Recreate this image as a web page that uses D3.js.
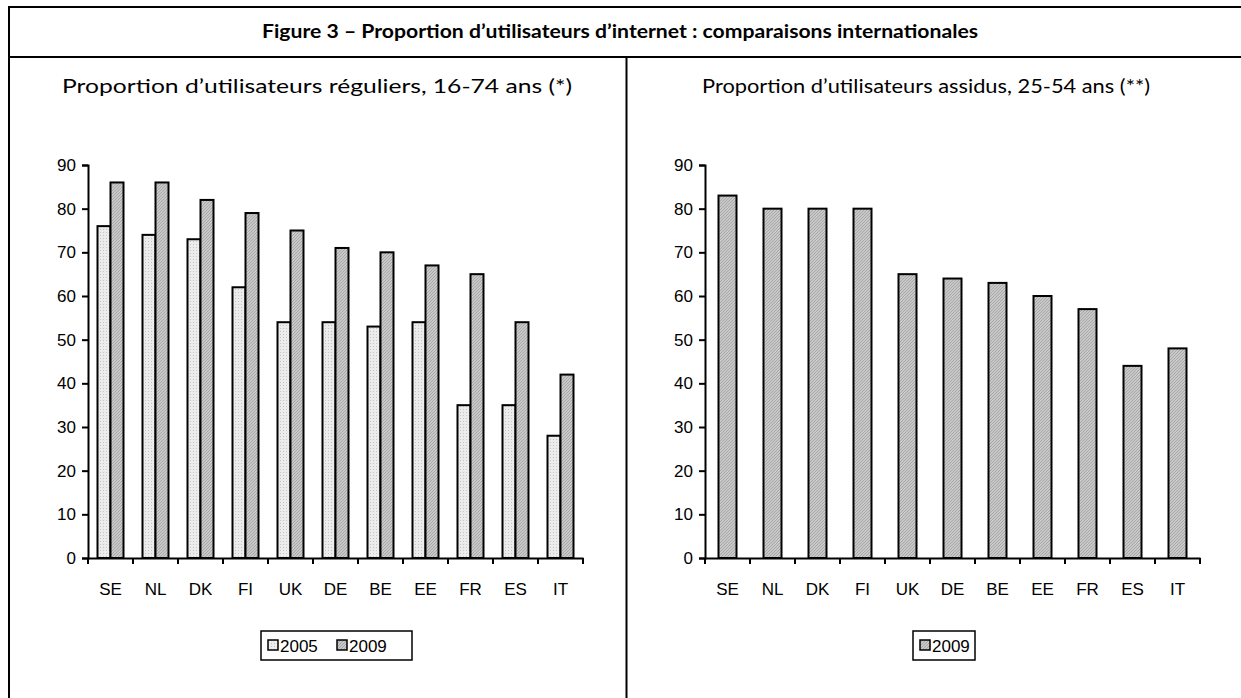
<!DOCTYPE html>
<html><head><meta charset="utf-8">
<script src="https://cdn.jsdelivr.net/npm/d3@7"></script>
<style>body{margin:0;background:#fff}svg{display:block}</style>
</head><body>
<svg id="c" width="1241" height="698"></svg>
<script>
const categories = ["SE","NL","DK","FI","UK","DE","BE","EE","FR","ES","IT"];
const left2005 = [76,74,73,62,54,54,53,54,35,35,28];
const left2009 = [86,86,82,79,75,71,70,67,65,54,42];
const right2009 = [83,80,80,80,65,64,63,60,57,44,48];
const yTicks = [0,10,20,30,40,50,60,70,80,90];
const figTitle = "Figure 3 – Proportion d’utilisateurs d’internet : comparaisons internationales";
const leftTitle = "Proportion d’utilisateurs réguliers, 16-74 ans (*)";
const rightTitle = "Proportion d’utilisateurs assidus, 25-54 ans (**)";

const svg = d3.select("#c");
const defs = svg.append("defs");
const pd = defs.append("pattern").attr("id","dots").attr("patternUnits","userSpaceOnUse").attr("width",3).attr("height",3);
pd.append("rect").attr("width",3).attr("height",3).attr("fill","#ececec");
pd.append("rect").attr("x",1).attr("y",1).attr("width",1).attr("height",1).attr("fill","#c4c4c4");
const ph = defs.append("pattern").attr("id","hatch").attr("patternUnits","userSpaceOnUse").attr("width",3).attr("height",3);
ph.append("rect").attr("width",3).attr("height",3).attr("fill","#c8c8c8");
ph.append("path").attr("d","M0,3 L3,0").attr("stroke","#a8a8a8").attr("stroke-width",1);

// frame
svg.append("rect").attr("x",9).attr("y",7).attr("width",1250).attr("height",700).attr("fill","none").attr("stroke","#000").attr("stroke-width",2);
svg.append("line").attr("x1",9).attr("x2",1241).attr("y1",57).attr("y2",57).attr("stroke","#000").attr("stroke-width",2);
svg.append("line").attr("x1",626.5).attr("x2",626.5).attr("y1",57).attr("y2",698).attr("stroke","#000").attr("stroke-width",2);
svg.append("text").attr("x",620).attr("y",38).attr("text-anchor","middle")
  .attr("font-family","Lato, 'Open Sans', sans-serif").attr("font-weight","bold").attr("font-size",18)
  .attr("textLength",716).attr("lengthAdjust","spacingAndGlyphs").text(figTitle);

const y = d3.scaleLinear().domain([0,90]).range([558,165]);

function panel(x0, title, titleX, titleW, series, fills, barW, legendX, legendW, legendLabels) {
  const g = svg.append("g");
  const x = d3.scaleBand().domain(categories).range([x0, x0+495]);
  g.append("text").attr("x",titleX).attr("y",93).attr("text-anchor","middle")
    .attr("font-family","Lato, 'Open Sans', sans-serif").attr("font-size",19.5)
    .attr("textLength",titleW).attr("lengthAdjust","spacingAndGlyphs").text(title);
  const n = series.length;
  const groupW = barW*n;
  series.forEach((s,si)=>{
    g.selectAll(null).data(categories).enter().append("rect")
      .attr("x",(d)=>x(d)+(x.bandwidth()-groupW)/2+si*barW)
      .attr("y",(d,i)=>y(s[i]))
      .attr("width",barW)
      .attr("height",(d,i)=>y(0)-y(s[i]))
      .attr("fill",fills[si]).attr("stroke","#000").attr("stroke-width",2);
  });
  const ya = g.append("g").attr("transform",`translate(${x0},0)`)
    .call(d3.axisLeft(y).tickValues(yTicks).tickSize(6).tickPadding(6));
  ya.selectAll("text").attr("font-family","'Liberation Sans', Arial, sans-serif").attr("font-size",17).attr("fill","#000");
  ya.selectAll("line,path").attr("stroke","#000").attr("stroke-width",2);
  const xa = g.append("g").attr("transform",`translate(0,${y(0)})`)
    .call(d3.axisBottom(x).tickSize(0).tickPadding(25));
  xa.selectAll("text").attr("font-family","'Liberation Sans', Arial, sans-serif").attr("font-size",17).attr("fill","#000");
  xa.select("path").attr("stroke","#000").attr("stroke-width",2);
  const bounds = categories.map(c=>x(c)).concat([x0+495]);
  g.selectAll(null).data(bounds).enter().append("line")
    .attr("x1",d=>d).attr("x2",d=>d).attr("y1",y(0)).attr("y2",y(0)+6)
    .attr("stroke","#000").attr("stroke-width",2);
  const lg = g.append("g");
  lg.append("rect").attr("x",legendX).attr("y",631).attr("width",legendW).attr("height",29)
    .attr("fill","#fff").attr("stroke","#000").attr("stroke-width",1.5);
  let lx = legendX+7;
  legendLabels.forEach((lab,i)=>{
    lg.append("rect").attr("x",lx).attr("y",640).attr("width",10).attr("height",10)
      .attr("fill",fills[i]).attr("stroke","#000").attr("stroke-width",1.5);
    lg.append("text").attr("x",lx+12).attr("y",652).attr("font-family","'Liberation Sans', Arial, sans-serif")
      .attr("font-size",17).text(lab);
    lx += 69;
  });
}

panel(88, leftTitle, 317, 510, [left2005,left2009], ["url(#dots)","url(#hatch)"], 13, 261, 151, ["2005","2009"]);
panel(705, rightTitle, 926, 448, [right2009], ["url(#hatch)"], 18, 913, 62, ["2009"]);
</script>
</body></html>
